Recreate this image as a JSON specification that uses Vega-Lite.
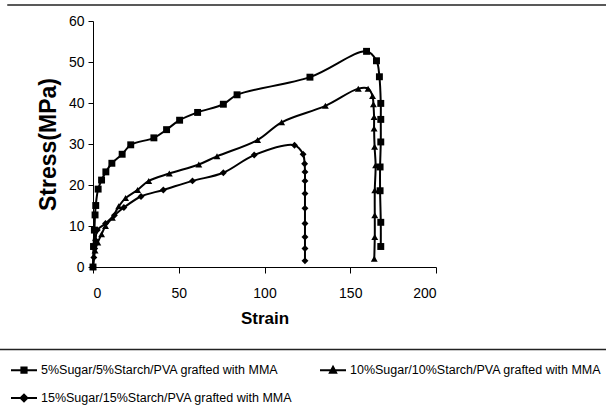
{
  "$schema": "https://vega.github.io/schema/vega-lite/v6.json",
  "width": 343,
  "height": 246,
  "autosize": {"type": "none"},
  "padding": {"left": 93, "top": 21, "right": 170, "bottom": 147},
  "background": "white",
  "config": {
    "view": {"stroke": null},
    "axis": {
      "domainColor": "black",
      "domainWidth": 1,
      "tickColor": "black",
      "tickWidth": 1,
      "grid": false,
      "labelFont": "Liberation Sans",
      "labelFontSize": 14,
      "labelColor": "black",
      "titleFont": "Liberation Sans",
      "titleColor": "black",
      "titleFontWeight": "bold"
    }
  },
  "datasets": {
    "curves": [
      {"s": "5%Sugar/5%Starch/PVA grafted with MMA", "i": 0, "x": 0, "y": 0},
      {"s": "5%Sugar/5%Starch/PVA grafted with MMA", "i": 1, "x": 0.3, "y": 5},
      {"s": "5%Sugar/5%Starch/PVA grafted with MMA", "i": 2, "x": 0.8, "y": 9},
      {"s": "5%Sugar/5%Starch/PVA grafted with MMA", "i": 3, "x": 1.2, "y": 12.7},
      {"s": "5%Sugar/5%Starch/PVA grafted with MMA", "i": 4, "x": 1.6, "y": 15},
      {"s": "5%Sugar/5%Starch/PVA grafted with MMA", "i": 5, "x": 3, "y": 19},
      {"s": "5%Sugar/5%Starch/PVA grafted with MMA", "i": 6, "x": 5, "y": 21.2},
      {"s": "5%Sugar/5%Starch/PVA grafted with MMA", "i": 7, "x": 7.5, "y": 23.2},
      {"s": "5%Sugar/5%Starch/PVA grafted with MMA", "i": 8, "x": 11, "y": 25.3},
      {"s": "5%Sugar/5%Starch/PVA grafted with MMA", "i": 9, "x": 17, "y": 27.5},
      {"s": "5%Sugar/5%Starch/PVA grafted with MMA", "i": 10, "x": 22, "y": 29.8},
      {"s": "5%Sugar/5%Starch/PVA grafted with MMA", "i": 11, "x": 35.5, "y": 31.5},
      {"s": "5%Sugar/5%Starch/PVA grafted with MMA", "i": 12, "x": 42.9, "y": 33.5},
      {"s": "5%Sugar/5%Starch/PVA grafted with MMA", "i": 13, "x": 50.5, "y": 35.8},
      {"s": "5%Sugar/5%Starch/PVA grafted with MMA", "i": 14, "x": 61, "y": 37.7},
      {"s": "5%Sugar/5%Starch/PVA grafted with MMA", "i": 15, "x": 76, "y": 39.7},
      {"s": "5%Sugar/5%Starch/PVA grafted with MMA", "i": 16, "x": 84, "y": 42},
      {"s": "5%Sugar/5%Starch/PVA grafted with MMA", "i": 17, "x": 126.5, "y": 46.3},
      {"s": "5%Sugar/5%Starch/PVA grafted with MMA", "i": 18, "x": 159.5, "y": 52.6},
      {"s": "5%Sugar/5%Starch/PVA grafted with MMA", "i": 19, "x": 165.3, "y": 50.3},
      {"s": "5%Sugar/5%Starch/PVA grafted with MMA", "i": 20, "x": 167, "y": 46.4},
      {"s": "5%Sugar/5%Starch/PVA grafted with MMA", "i": 21, "x": 167.8, "y": 39.9},
      {"s": "5%Sugar/5%Starch/PVA grafted with MMA", "i": 22, "x": 167.8, "y": 36},
      {"s": "5%Sugar/5%Starch/PVA grafted with MMA", "i": 23, "x": 167.8, "y": 30.5},
      {"s": "5%Sugar/5%Starch/PVA grafted with MMA", "i": 24, "x": 167.4, "y": 24.4},
      {"s": "5%Sugar/5%Starch/PVA grafted with MMA", "i": 25, "x": 167.4, "y": 18.6},
      {"s": "5%Sugar/5%Starch/PVA grafted with MMA", "i": 26, "x": 167.8, "y": 10.9},
      {"s": "5%Sugar/5%Starch/PVA grafted with MMA", "i": 27, "x": 167.8, "y": 5},
      {"s": "10%Sugar/10%Starch/PVA grafted with MMA", "i": 0, "x": 0, "y": 0},
      {"s": "10%Sugar/10%Starch/PVA grafted with MMA", "i": 1, "x": 1.2, "y": 4},
      {"s": "10%Sugar/10%Starch/PVA grafted with MMA", "i": 2, "x": 2.8, "y": 6},
      {"s": "10%Sugar/10%Starch/PVA grafted with MMA", "i": 3, "x": 5, "y": 8},
      {"s": "10%Sugar/10%Starch/PVA grafted with MMA", "i": 4, "x": 7.3, "y": 10},
      {"s": "10%Sugar/10%Starch/PVA grafted with MMA", "i": 5, "x": 11.3, "y": 12},
      {"s": "10%Sugar/10%Starch/PVA grafted with MMA", "i": 6, "x": 15, "y": 14.8},
      {"s": "10%Sugar/10%Starch/PVA grafted with MMA", "i": 7, "x": 19, "y": 16.8},
      {"s": "10%Sugar/10%Starch/PVA grafted with MMA", "i": 8, "x": 26, "y": 18.8},
      {"s": "10%Sugar/10%Starch/PVA grafted with MMA", "i": 9, "x": 32.5, "y": 21},
      {"s": "10%Sugar/10%Starch/PVA grafted with MMA", "i": 10, "x": 44.5, "y": 22.8},
      {"s": "10%Sugar/10%Starch/PVA grafted with MMA", "i": 11, "x": 61.7, "y": 25},
      {"s": "10%Sugar/10%Starch/PVA grafted with MMA", "i": 12, "x": 72.3, "y": 27},
      {"s": "10%Sugar/10%Starch/PVA grafted with MMA", "i": 13, "x": 96, "y": 31},
      {"s": "10%Sugar/10%Starch/PVA grafted with MMA", "i": 14, "x": 110, "y": 35.3},
      {"s": "10%Sugar/10%Starch/PVA grafted with MMA", "i": 15, "x": 135.5, "y": 39.3},
      {"s": "10%Sugar/10%Starch/PVA grafted with MMA", "i": 16, "x": 154.7, "y": 43.5},
      {"s": "10%Sugar/10%Starch/PVA grafted with MMA", "i": 17, "x": 160.4, "y": 43.5},
      {"s": "10%Sugar/10%Starch/PVA grafted with MMA", "i": 18, "x": 163, "y": 41.7},
      {"s": "10%Sugar/10%Starch/PVA grafted with MMA", "i": 19, "x": 163.5, "y": 39.7},
      {"s": "10%Sugar/10%Starch/PVA grafted with MMA", "i": 20, "x": 163.9, "y": 36.6},
      {"s": "10%Sugar/10%Starch/PVA grafted with MMA", "i": 21, "x": 163.9, "y": 33.8},
      {"s": "10%Sugar/10%Starch/PVA grafted with MMA", "i": 22, "x": 164.2, "y": 29.3},
      {"s": "10%Sugar/10%Starch/PVA grafted with MMA", "i": 23, "x": 164.8, "y": 24.8},
      {"s": "10%Sugar/10%Starch/PVA grafted with MMA", "i": 24, "x": 164.3, "y": 18.7},
      {"s": "10%Sugar/10%Starch/PVA grafted with MMA", "i": 25, "x": 164.3, "y": 12.6},
      {"s": "10%Sugar/10%Starch/PVA grafted with MMA", "i": 26, "x": 164.3, "y": 7.3},
      {"s": "10%Sugar/10%Starch/PVA grafted with MMA", "i": 27, "x": 164, "y": 2},
      {"s": "15%Sugar/15%Starch/PVA grafted with MMA", "i": 0, "x": 0, "y": 0},
      {"s": "15%Sugar/15%Starch/PVA grafted with MMA", "i": 1, "x": 0.5, "y": 2.3},
      {"s": "15%Sugar/15%Starch/PVA grafted with MMA", "i": 2, "x": 1, "y": 4.5},
      {"s": "15%Sugar/15%Starch/PVA grafted with MMA", "i": 3, "x": 1.5, "y": 6.5},
      {"s": "15%Sugar/15%Starch/PVA grafted with MMA", "i": 4, "x": 2.5, "y": 9},
      {"s": "15%Sugar/15%Starch/PVA grafted with MMA", "i": 5, "x": 7.3, "y": 10.6},
      {"s": "15%Sugar/15%Starch/PVA grafted with MMA", "i": 6, "x": 12.5, "y": 12.6},
      {"s": "15%Sugar/15%Starch/PVA grafted with MMA", "i": 7, "x": 18, "y": 14.5},
      {"s": "15%Sugar/15%Starch/PVA grafted with MMA", "i": 8, "x": 28, "y": 17.2},
      {"s": "15%Sugar/15%Starch/PVA grafted with MMA", "i": 9, "x": 41, "y": 18.8},
      {"s": "15%Sugar/15%Starch/PVA grafted with MMA", "i": 10, "x": 58, "y": 21},
      {"s": "15%Sugar/15%Starch/PVA grafted with MMA", "i": 11, "x": 76, "y": 23},
      {"s": "15%Sugar/15%Starch/PVA grafted with MMA", "i": 12, "x": 94, "y": 27.3},
      {"s": "15%Sugar/15%Starch/PVA grafted with MMA", "i": 13, "x": 117.5, "y": 29.7},
      {"s": "15%Sugar/15%Starch/PVA grafted with MMA", "i": 14, "x": 122.5, "y": 27.5},
      {"s": "15%Sugar/15%Starch/PVA grafted with MMA", "i": 15, "x": 123.4, "y": 25.2},
      {"s": "15%Sugar/15%Starch/PVA grafted with MMA", "i": 16, "x": 123.6, "y": 23.2},
      {"s": "15%Sugar/15%Starch/PVA grafted with MMA", "i": 17, "x": 123.6, "y": 21},
      {"s": "15%Sugar/15%Starch/PVA grafted with MMA", "i": 18, "x": 123.6, "y": 17.9},
      {"s": "15%Sugar/15%Starch/PVA grafted with MMA", "i": 19, "x": 123.6, "y": 14.3},
      {"s": "15%Sugar/15%Starch/PVA grafted with MMA", "i": 20, "x": 123.6, "y": 10.6},
      {"s": "15%Sugar/15%Starch/PVA grafted with MMA", "i": 21, "x": 123.6, "y": 7.3},
      {"s": "15%Sugar/15%Starch/PVA grafted with MMA", "i": 22, "x": 123.6, "y": 4.5},
      {"s": "15%Sugar/15%Starch/PVA grafted with MMA", "i": 23, "x": 123.6, "y": 1.5}
    ],
    "frame": [{"k": 1}]
  },
  "layer": [
    {
      "data": {"name": "frame"},
      "mark": {"type": "rule", "color": "#222", "strokeWidth": 1.5},
      "encoding": {
        "x": {"datum": -50, "type": "quantitative", "scale": {"domain": [0, 200], "nice": false, "zero": false}},
        "x2": {"datum": 300},
        "y": {"datum": 63.9, "type": "quantitative", "scale": {"domain": [0, 60], "nice": false, "zero": false}}
      }
    },
    {
      "data": {"name": "frame"},
      "mark": {"type": "rule", "color": "#222", "strokeWidth": 1.5},
      "encoding": {
        "x": {"datum": -60, "type": "quantitative"},
        "x2": {"datum": 300},
        "y": {"datum": -20.1, "type": "quantitative"}
      }
    },
    {
      "data": {"name": "curves"},
      "mark": {"type": "line", "interpolate": "catmull-rom", "color": "black", "strokeWidth": 2},
      "encoding": {
        "x": {
          "field": "x",
          "type": "quantitative",
          "scale": {"domain": [0, 200], "nice": false, "zero": false},
          "axis": {
            "values": [0, 50, 100, 150, 200],
            "title": "Strain",
            "titleFontSize": 17,
            "tickSize": 6,
            "labelPadding": 13,
            "titlePadding": 10
          }
        },
        "y": {
          "field": "y",
          "type": "quantitative",
          "scale": {"domain": [0, 60], "nice": false, "zero": false},
          "axis": {
            "values": [0, 10, 20, 30, 40, 50, 60],
            "title": "Stress(MPa)",
            "titleFontSize": 23,
            "tickSize": 5,
            "labelPadding": 4,
            "titlePadding": 8
          }
        },
        "detail": {"field": "s"},
        "order": {"field": "i", "type": "quantitative"}
      }
    },
    {
      "data": {"name": "curves"},
      "mark": {"type": "point", "filled": true, "color": "black", "opacity": 1, "size": 48},
      "encoding": {
        "x": {"field": "x", "type": "quantitative"},
        "y": {"field": "y", "type": "quantitative"},
        "shape": {
          "field": "s",
          "type": "nominal",
          "scale": {
            "domain": ["5%Sugar/5%Starch/PVA grafted with MMA", "10%Sugar/10%Starch/PVA grafted with MMA", "15%Sugar/15%Starch/PVA grafted with MMA"],
            "range": ["square", "triangle-up", "diamond"]
          },
          "legend": null
        }
      }
    },
    {
      "data": {"name": "curves"},
      "transform": [{"filter": "false"}],
      "mark": {"type": "point", "filled": false, "color": "black", "opacity": 1, "strokeWidth": 2},
      "encoding": {
        "shape": {
          "field": "s",
          "type": "nominal",
          "scale": {
            "domain": ["5%Sugar/5%Starch/PVA grafted with MMA", "15%Sugar/15%Starch/PVA grafted with MMA", "10%Sugar/10%Starch/PVA grafted with MMA"],
            "range": [
              "M-1,0H1M-0.2,-0.2H0.2V0.2H-0.2ZM-0.2,-0.1H0.2M-0.2,0.1H0.2",
              "M-1,0H1M-0.26,0L0,-0.26L0.26,0L0,0.26ZM-0.14,-0.1H0.14M-0.14,0.1H0.14",
              "M-1,0H1M0,-0.26L0.24,0.2H-0.24ZM-0.19,0.1H0.19M-0.08,-0.1H0.08"
            ]
          },
          "legend": {
            "orient": "none",
            "legendX": -83,
            "legendY": 335,
            "columns": 2,
            "title": null,
            "padding": 0,
            "labelFont": "Liberation Sans",
            "labelFontSize": 12.5,
            "labelColor": "black",
            "labelLimit": 500,
            "labelOffset": 3,
            "symbolSize": 676,
            "symbolStrokeColor": "black",
            "symbolStrokeWidth": 2,
            "symbolOpacity": 1,
            "columnPadding": 23,
            "rowPadding": 7
          }
        }
      }
    }
  ],
  "resolve": {"scale": {"shape": "independent"}, "legend": {"shape": "independent"}}
}
